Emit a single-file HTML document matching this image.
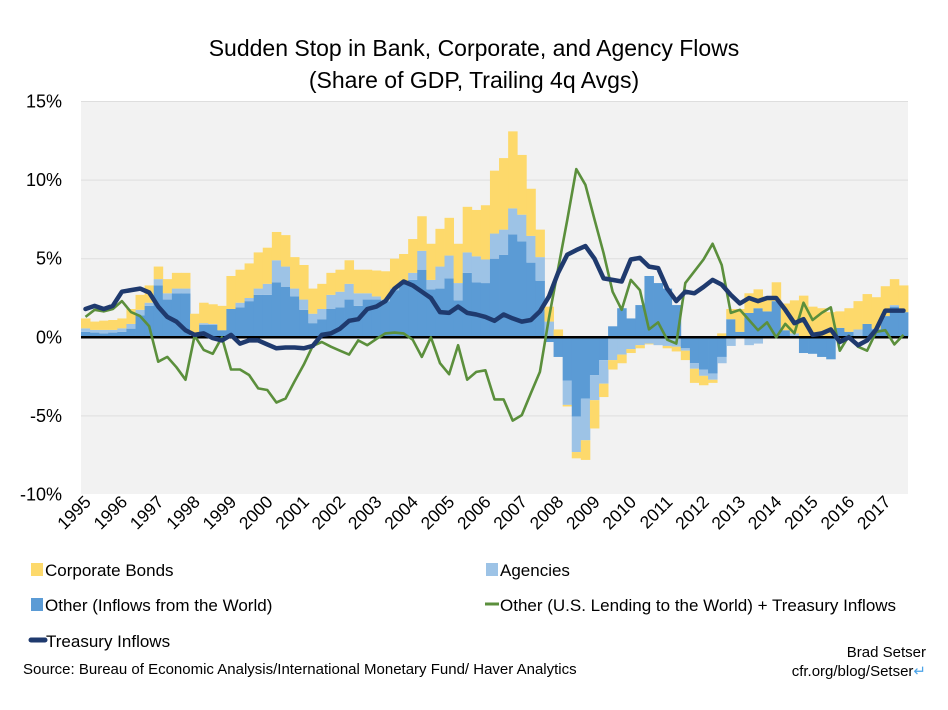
<!DOCTYPE html>
<html><head><meta charset="utf-8"><style>
body{margin:0;background:#fff;width:948px;height:710px;overflow:hidden;font-family:"Liberation Sans Narrow","Liberation Sans",sans-serif;color:#111}
</style></head><body>
<svg id="chart" width="948" height="710" style="position:absolute;left:0;top:0" xmlns="http://www.w3.org/2000/svg">
<text x="474" y="56" text-anchor="middle" font-size="23" font-family="Liberation Sans, sans-serif">Sudden Stop in Bank, Corporate, and Agency Flows</text>
<text x="474" y="88" text-anchor="middle" font-size="23" font-family="Liberation Sans, sans-serif">(Share of GDP, Trailing 4q Avgs)</text>
<rect x="81" y="101" width="827" height="393" fill="#f2f2f2"/>
<g id="grid"></g><g id="bars"></g><g id="lines"></g><g id="axes"></g>
<g font-size="17">
<rect x="31" y="563" width="12" height="13" fill="#fdd96b"/>
<text x="45" y="576">Corporate Bonds</text>
<rect x="486" y="563" width="12" height="13" fill="#9dc3e6"/>
<text x="500" y="576">Agencies</text>
<rect x="31" y="598" width="12" height="13" fill="#5b9bd5"/>
<text x="45" y="611">Other (Inflows from the World)</text>
<line x1="485" y1="604" x2="499" y2="604" stroke="#5b8f3c" stroke-width="3"/>
<text x="500" y="611">Other (U.S. Lending to the World) + Treasury Inflows</text>
<line x1="31" y1="640" x2="45" y2="640" stroke="#1f3a6e" stroke-width="5" stroke-linecap="round"/>
<text x="46" y="647">Treasury Inflows</text>
</g>
<text x="23" y="674" font-size="15">Source: Bureau of Economic Analysis/International Monetary Fund/ Haver Analytics</text>
<text x="926" y="657" text-anchor="end" font-size="15">Brad Setser</text>
<text x="926" y="676" text-anchor="end" font-size="15">cfr.org/blog/Setser<tspan fill="#4aa3e8">↵</tspan></text>
</svg>
<script>
const years=["1995","1996","1997","1998","1999","2000","2001","2002","2003","2004","2005","2006","2007","2008","2009","2010","2011","2012","2013","2014","2015","2016","2017"];
const yTicks=[15,10,5,0,-5,-10];
const otherFlows=[0.35,0.3,0.25,0.3,0.35,0.55,1.4,2.0,3.3,2.4,2.8,2.8,0,0.8,0.8,0.45,1.8,1.9,2.3,2.7,2.7,3.5,3.2,2.6,1.75,0.9,1.15,1.8,1.9,2.4,2.0,2.4,2.4,2.3,3.0,3.45,3.65,4.3,3.05,3.1,3.75,2.35,4.1,3.5,3.45,5.0,5.25,6.55,6.1,4.75,3.6,-0.3,-1.25,-2.75,-5.05,-3.9,-2.4,-1.45,0.7,1.85,1.2,2.05,3.9,3.45,3.1,2.05,-0.7,-1.65,-2.05,-2.3,-1.25,1.15,0.35,1.55,1.85,1.65,2.3,0.45,0,-1.0,-1.05,-1.25,-1.4,0.6,0.35,0,0.85,0.5,1.35,1.95,1.6];
const agencies=[0.22,0.17,0.22,0.17,0.22,0.3,0.35,0.2,0.4,0.4,0.3,0.3,0.25,0.1,0.05,0,0,0.3,0.2,0.4,0.7,1.4,1.3,0.5,0.65,0.6,0.65,0.9,1.0,1.0,0.8,0.4,0.2,0.1,0.1,0.1,0.45,1.2,0.6,1.4,1.45,1.1,1.3,1.65,1.5,1.6,1.6,1.65,1.7,1.7,1.5,1.0,0,-1.55,-2.25,-2.65,-1.6,-1.5,-1.45,-1.1,-0.75,-0.5,-0.4,-0.5,-0.55,-0.6,-0.15,-0.35,-0.4,-0.4,-0.4,-0.55,0,-0.5,-0.4,0,0,0,0.25,0,0,0,0,0,0,0.5,0,0.05,0,0.1,0];
const corporate=[0.63,0.53,0.59,0.63,0.63,0.95,0.95,1.1,0.8,0.9,1.0,1.0,1.25,1.3,1.25,1.55,2.1,2.1,2.2,2.3,2.3,1.8,2.0,2.0,2.2,1.6,1.6,1.4,1.4,1.5,1.5,1.5,1.65,1.8,1.9,1.75,2.15,2.2,2.3,2.4,2.4,2.5,2.9,2.95,3.45,4.0,4.55,4.9,3.8,3.0,1.75,0.95,0.5,-0.1,-0.4,-1.25,-1.8,-0.85,-0.6,-0.55,-0.25,-0.2,-0.05,0,-0.15,-0.3,-0.6,-0.9,-0.6,-0.2,0.25,0.65,1.45,1.25,1.2,0.95,1.2,1.7,2.1,2.65,1.95,1.85,1.6,1.05,1.5,1.8,1.9,2.0,1.9,1.65,1.7];
const treasury=[1.8,2.0,1.8,2.0,2.9,3.0,3.1,2.85,1.95,1.3,1.0,0.45,0.15,0.25,-0.05,-0.2,0.15,-0.4,-0.2,-0.2,-0.45,-0.7,-0.65,-0.65,-0.7,-0.55,0.15,0.25,0.55,1.05,1.15,1.8,1.95,2.3,3.1,3.55,3.3,2.9,2.5,1.6,1.55,1.95,1.55,1.45,1.3,1.05,1.45,1.2,1.0,1.1,1.65,2.6,4.1,5.25,5.55,5.8,5.0,3.75,3.65,3.55,4.95,5.05,4.5,4.4,3.1,2.3,2.9,2.8,3.2,3.65,3.35,2.7,2.15,2.5,2.3,2.5,2.5,1.75,0.9,1.15,0.15,0.25,0.5,-0.3,0,-0.5,-0.2,0.5,1.7,1.7,1.7];
const otherPlusTreasury=[1.3,1.75,1.65,1.8,2.3,1.6,1.35,0.7,-1.55,-1.25,-1.9,-2.7,0.1,-0.8,-1.05,0,-2.05,-2.05,-2.4,-3.25,-3.35,-4.15,-3.9,-2.8,-1.75,-0.55,-0.3,-0.6,-0.85,-1.1,-0.2,-0.5,-0.1,0.25,0.3,0.25,-0.15,-1.25,0,-1.65,-2.35,-0.5,-2.7,-2.2,-2.1,-3.95,-3.95,-5.3,-4.95,-3.55,-2.2,1.25,4.35,7.45,10.7,9.7,7.5,5.35,2.9,1.75,3.65,3.0,0.5,0.95,-0.15,-0.4,3.45,4.2,4.95,5.95,4.6,1.55,1.75,1.1,0.45,0.95,0,0.85,0.25,2.2,1.1,1.55,1.9,-0.85,0.1,-0.6,-0.85,0.35,0.45,-0.45,0.15];

const NS="http://www.w3.org/2000/svg";
const X0=81,X1=908,N=otherFlows.length,BW=(X1-X0)/N;
function xs(i){return X0+BW*i;}
function ys(v){return 337.3-v*15.72;}
function mk(tag,attrs,parent){const e=document.createElementNS(NS,tag);for(const k in attrs)e.setAttribute(k,attrs[k]);parent.appendChild(e);return e;}
const grid=document.getElementById('grid'),bars=document.getElementById('bars'),lines=document.getElementById('lines'),axes=document.getElementById('axes');
yTicks.forEach(t=>{
  if(t!==0&&t!==-10){const g=mk('line',{x1:X0,x2:X1,y1:ys(t),y2:ys(t),stroke:'#dedede','stroke-width':1},grid);
  
  }
  const l=mk('text',{x:62,y:ys(t)+6,'text-anchor':'end','font-size':18,'font-family':'Liberation Sans, sans-serif'},axes);
  l.textContent=t+'%';
  
  
});
const series=[[otherFlows,'#5b9bd5','bar-other'],[agencies,'#9dc3e6','bar-agencies'],[corporate,'#fdd96b','bar-corporate']];
for(let i=0;i<N;i++){
  let pos=0,neg=0;
  series.forEach(([arr,col,name])=>{
    const v=arr[i];if(!v)return;
    let a,b;
    if(v>0){a=pos;b=pos+v;pos=b;}else{a=neg;b=neg+v;neg=b;}
    const r=mk('rect',{x:xs(i),width:BW+0.4,y:Math.min(ys(a),ys(b)),height:Math.abs(ys(a)-ys(b)),fill:col},bars);
    
    
  });
}
const z=mk('line',{x1:X0,x2:X1,y1:ys(0),y2:ys(0),stroke:'#000','stroke-width':2.5},bars);


function path(arr){return arr.map((v,i)=>(i?'L':'M')+(xs(i)+BW/2).toFixed(1)+','+ys(v).toFixed(1)).join(' ');}
const gl=mk('path',{d:path(otherPlusTreasury),fill:'none',stroke:'#5b8f3c','stroke-width':2.6,'stroke-linejoin':'round'},lines);


const tl=mk('path',{d:path(treasury),fill:'none',stroke:'#1f3a6e','stroke-width':4.5,'stroke-linejoin':'round','stroke-linecap':'round'},lines);


years.forEach((y,k)=>{
  const x=xs(k*4)+11;
  const t=mk('text',{x:x,y:503,'text-anchor':'end','font-size':17.5,transform:'rotate(-45 '+x+' 503)'},axes);
  t.textContent=y;
  
  
});
</script>
</body></html>
